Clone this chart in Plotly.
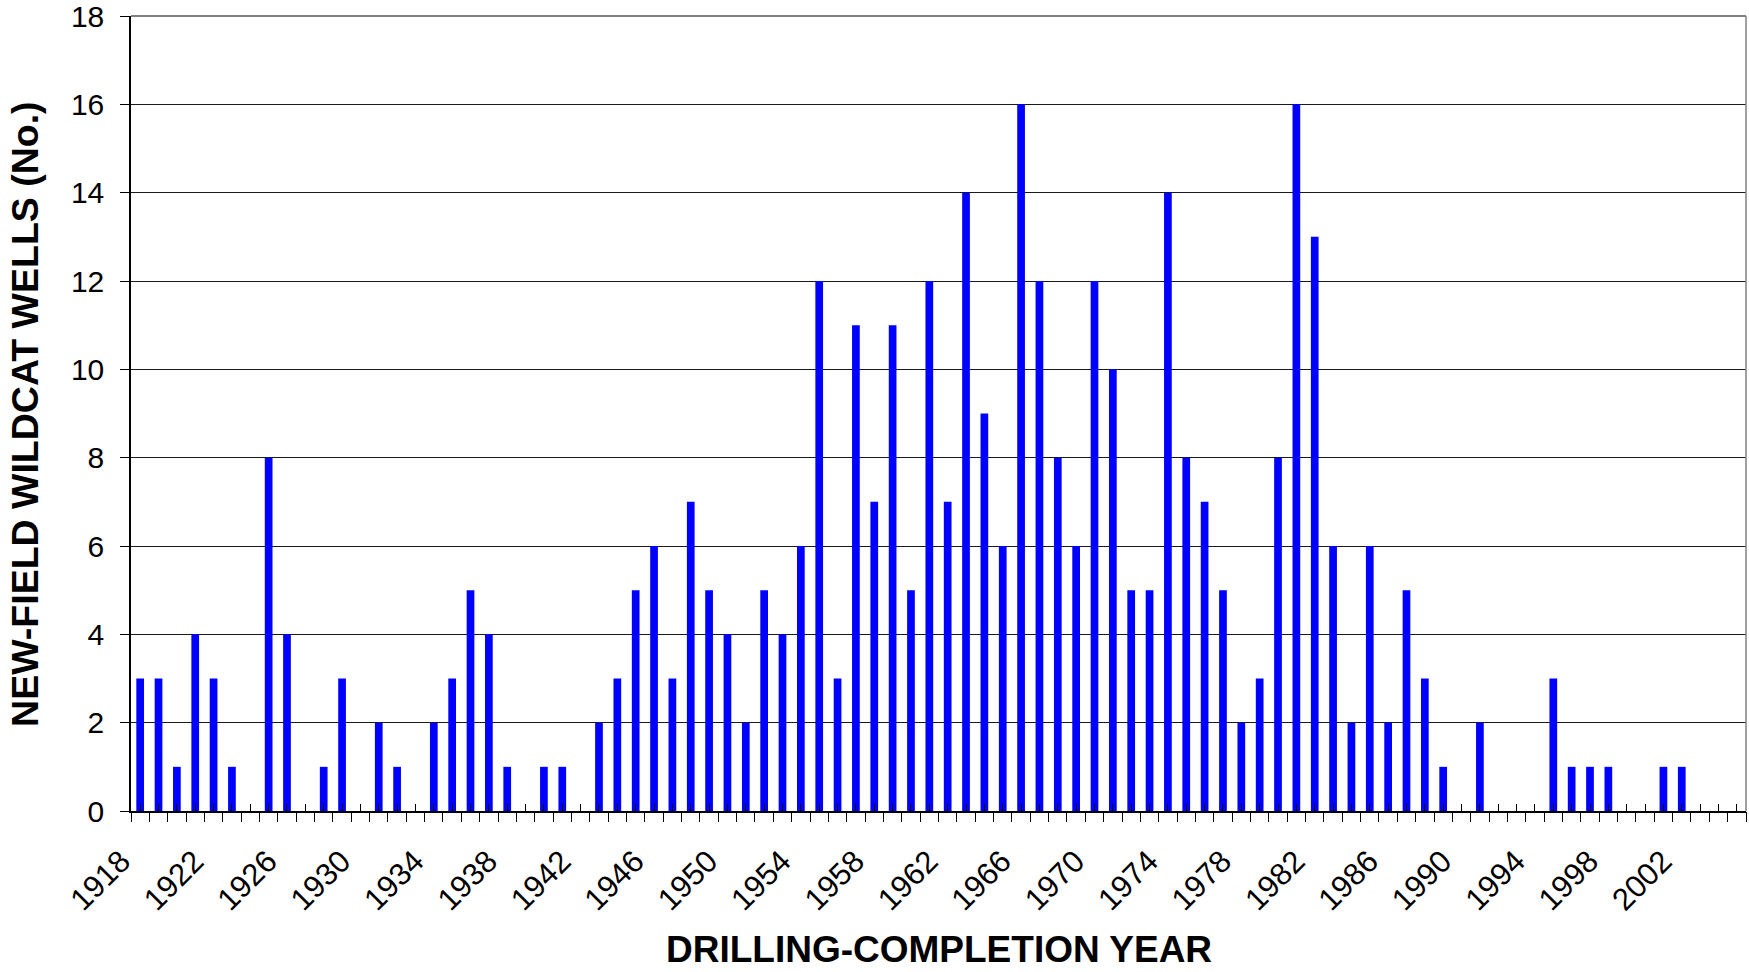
import plotly.graph_objects as go

# drilling-completion years 1918-2005
years = list(range(1918, 2006))
wells = [
    3, 3, 1, 4, 3, 1, 0, 8, 4, 0,        # 1918-1927
    1, 3, 0, 2, 1, 0, 2, 3, 5, 4,        # 1928-1937
    1, 0, 1, 1, 0, 2, 3, 5, 6, 3,        # 1938-1947
    7, 5, 4, 2, 5, 4, 6, 12, 3, 11,      # 1948-1957
    7, 11, 5, 12, 7, 14, 9, 6, 16, 12,   # 1958-1967
    8, 6, 12, 10, 5, 5, 14, 8, 7, 5,     # 1968-1977
    2, 3, 8, 16, 13, 6, 2, 6, 2, 5,      # 1978-1987
    3, 1, 0, 2, 0, 0, 0, 3, 1, 1,        # 1988-1997
    1, 0, 0, 1, 1, 0, 0, 0,              # 1998-2005
]
label_years = list(range(1918, 2006, 4))
boundaries = [y - 0.5 for y in years] + [years[-1] + 0.5]

FONT = "Liberation Sans, Arial, sans-serif"
xrange = [years[0] - 0.5, years[-1] + 0.5]

fig = go.Figure()
fig.add_trace(go.Bar(x=years, y=wells, marker=dict(color="#0000FF", line_width=0),
                     width=0.42, showlegend=False))

fig.update_layout(
    width=1749, height=972,
    margin=dict(l=131, r=3, t=16, b=161, autoexpand=False),
    paper_bgcolor="white", plot_bgcolor="white",
    font=dict(family=FONT, size=30, color="black"),
    xaxis=dict(
        range=xrange, tickmode="array", tickvals=label_years,
        ticktext=[str(y) for y in label_years], tickangle=-45,
        ticks="", ticklabelstandoff=18, ticklabelshift=-19,
        ticklabeloverflow="allow", automargin=False,
        showgrid=False, zeroline=False,
        showline=True, linecolor="black", linewidth=1.5,
        tickfont=dict(size=31),
    ),
    xaxis2=dict(
        overlaying="x", anchor="y", range=xrange, tickmode="array",
        tickvals=years, showticklabels=False, ticks="inside", ticklen=7,
        tickcolor="black", tickwidth=1, showgrid=False, zeroline=False,
    ),
    xaxis3=dict(
        overlaying="x", anchor="y", range=xrange, tickmode="array",
        tickvals=boundaries, showticklabels=False, ticks="outside", ticklen=10,
        tickcolor="black", tickwidth=1, showgrid=False, zeroline=False,
    ),
    yaxis=dict(
        range=[0, 18], dtick=2, tick0=0, ticks="outside", ticklen=9,
        tickcolor="black", showgrid=True, gridcolor="#1a1a1a", gridwidth=1,
        showline=True, linecolor="black", linewidth=1.5, zeroline=False,
        tickfont=dict(size=30), ticklabelstandoff=10,
        ticklabeloverflow="allow", automargin=False,
    ),
    bargap=0.58,
)

# dummy traces so the overlay axes are drawn
fig.add_trace(go.Scatter(x=[None], y=[None], xaxis="x2", showlegend=False))
fig.add_trace(go.Scatter(x=[None], y=[None], xaxis="x3", showlegend=False))

# grey plot-area border on top and right
fig.add_shape(type="line", xref="paper", yref="paper", x0=0, x1=1, y0=1, y1=1,
              line=dict(color="#808080", width=2))
fig.add_shape(type="line", xref="paper", yref="paper", x0=1, x1=1, y0=0, y1=1,
              line=dict(color="#808080", width=1.5))

fig.add_annotation(text="<b>NEW-FIELD WILDCAT WELLS (No.)</b>", textangle=-90,
                   xref="paper", yref="paper", x=-0.066, y=0.5,
                   xanchor="center", yanchor="middle",
                   showarrow=False, font=dict(size=37.5, family=FONT))
fig.add_annotation(text="<b>DRILLING-COMPLETION YEAR</b>",
                   xref="paper", yref="paper", x=0.5, y=-0.174,
                   xanchor="center", yanchor="middle",
                   showarrow=False, font=dict(size=37, family=FONT))

fig.write_html("out.html", config={"displayModeBar": False},
               post_script="document.body.style.margin='0';")
